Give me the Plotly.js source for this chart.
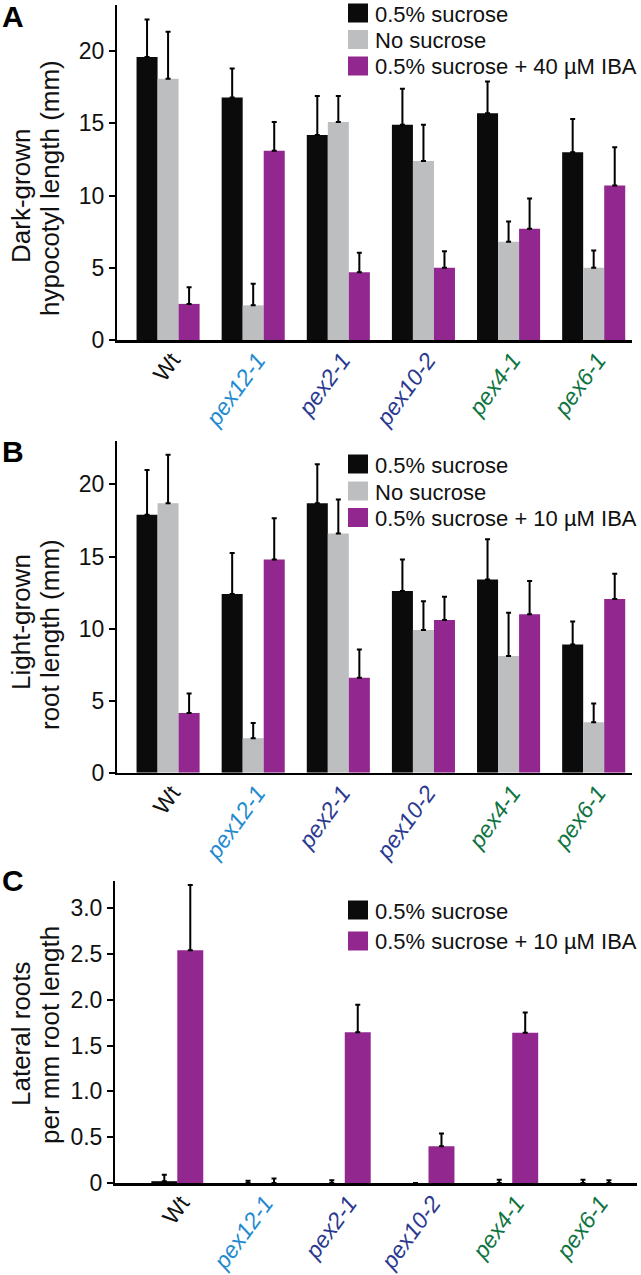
<!DOCTYPE html>
<html>
<head>
<meta charset="utf-8">
<script src="https://cdn.plot.ly/plotly-3.0.1.min.js"></script>
<style>html,body{margin:0;padding:0;background:#fff;}</style>
</head>
<body>
<div id="chart" style="width:641px;height:1275px;"></div>
<script>
// ---------- data ----------
const categories = ['Wt', 'pex12-1', 'pex2-1', 'pex10-2', 'pex4-1', 'pex6-1'];

const namesA = ['0.5% sucrose', 'No sucrose', '0.5% sucrose + 40 µM IBA'];
const aSucrose = [19.6, 16.8, 14.2, 14.9, 15.7, 13.0];
const aSucroseErr = [2.6, 2.0, 2.7, 2.5, 2.2, 2.3];
const aNoSucrose = [18.1, 2.4, 15.1, 12.4, 6.8, 5.0];
const aNoSucroseErr = [3.25, 1.5, 1.8, 2.5, 1.4, 1.2];
const aIBA = [2.5, 13.1, 4.7, 5.0, 7.7, 10.7];
const aIBAErr = [1.15, 2.0, 1.35, 1.15, 2.1, 2.65];

const namesB = ['0.5% sucrose', 'No sucrose', '0.5% sucrose + 10 µM IBA'];
const bSucrose = [17.9, 12.4, 18.7, 12.6, 13.4, 8.9];
const bSucroseErr = [3.1, 2.85, 2.7, 2.2, 2.8, 1.6];
const bNoSucrose = [18.7, 2.4, 16.6, 9.9, 8.1, 3.5];
const bNoSucroseErr = [3.35, 1.05, 2.35, 2.0, 3.0, 1.3];
const bIBA = [4.15, 14.8, 6.6, 10.6, 11.0, 12.05];
const bIBAErr = [1.35, 2.85, 1.95, 1.6, 2.3, 1.75];

const namesC = ['0.5% sucrose', '0.5% sucrose + 10 µM IBA'];
const cSucrose = [0.02, 0, 0, 0, 0, 0];
const cSucroseErr = [0.07, 0.025, 0.03, 0, 0.035, 0.035];
const cIBA = [2.54, 0, 1.645, 0.40, 1.64, 0];
const cIBAErr = [0.71, 0.05, 0.30, 0.14, 0.22, 0.03];

const yTicksAB = [0, 5, 10, 15, 20];
const yTicksC = [0, 0.5, 1.0, 1.5, 2.0, 2.5, 3.0];
const yTickTextC = ['0', '0.5', '1.0', '1.5', '2.0', '2.5', '3.0'];

const titleA = ['Dark-grown', 'hypocotyl length (mm)'];
const titleB = ['Light-grown', 'root length (mm)'];
const titleC = ['Lateral roots', 'per mm root length'];
const panelLetters = ['A', 'B', 'C'];

// ---------- styles ----------
const W = 641, H = 1275;
const FONT = 'Liberation Sans, Arial, Helvetica, sans-serif';
const BLACK = '#0b0b0b', GRAY = '#bcbec0', PURPLE = '#92278f';
const tickColors = ['#111111', '#1f8ad0', '#2b3990', '#2b3990', '#0e7442', '#0e7442'];
const px = v => v / W;
const py = v => 1 - v / H;

const tickText = categories.map((c, i) =>
  i === 0 ? '<span style="color:' + tickColors[i] + '">' + c + '</span>'
          : '<i><span style="color:' + tickColors[i] + '">' + c + '</span></i>');

function barTrace(y, err, color, name, xa, ya, w, off) {
  return {
    type: 'bar', x: categories, y: y, name: name, xaxis: xa, yaxis: ya,
    width: w, offset: off,
    marker: {color: color, line: {width: 0}},
    error_y: {type: 'data', symmetric: false, array: err,
              arrayminus: err.map(() => 0), color: '#000', thickness: 2, width: 2.5},
    showlegend: false, hoverinfo: 'x+y'
  };
}

const wAB = 0.247, wC = 0.31;
const data = [
  barTrace(aSucrose, aSucroseErr, BLACK, namesA[0], 'x', 'y', wAB, -1.5 * wAB),
  barTrace(aNoSucrose, aNoSucroseErr, GRAY, namesA[1], 'x', 'y', wAB, -0.5 * wAB),
  barTrace(aIBA, aIBAErr, PURPLE, namesA[2], 'x', 'y', wAB, 0.5 * wAB),
  barTrace(bSucrose, bSucroseErr, BLACK, namesB[0], 'x2', 'y2', wAB, -1.5 * wAB),
  barTrace(bNoSucrose, bNoSucroseErr, GRAY, namesB[1], 'x2', 'y2', wAB, -0.5 * wAB),
  barTrace(bIBA, bIBAErr, PURPLE, namesB[2], 'x2', 'y2', wAB, 0.5 * wAB),
  barTrace(cSucrose, cSucroseErr, BLACK, namesC[0], 'x3', 'y3', wC, -wC),
  barTrace(cIBA, cIBAErr, PURPLE, namesC[1], 'x3', 'y3', wC, 0)
];

function xAxis(domain, range, anchor) {
  return {
    domain: domain, range: range, anchor: anchor, type: 'category',
    tickmode: 'array', tickvals: categories, ticktext: tickText,
    tickangle: -54, ticks: '', showline: true, linecolor: '#000', linewidth: 2.5,
    ticklabelstandoff: -5, ticklabelshift: 4,
    showgrid: false, zeroline: false, fixedrange: true,
    tickfont: {family: FONT, size: 23, color: '#111'}
  };
}
function yAxis(domain, range, anchor, tv, tt) {
  return {
    domain: domain, range: range, anchor: anchor,
    tickmode: 'array', tickvals: tv, ticktext: tt || tv.map(String),
    ticks: 'outside', ticklen: 6, tickwidth: 2, tickcolor: '#000',
    showline: true, linecolor: '#000', linewidth: 2,
    showgrid: false, zeroline: false, fixedrange: true,
    tickfont: {family: FONT, size: 23, color: '#111'}
  };
}

const shapes = [], annotations = [];
function legend(names, colors, rows) {
  names.forEach((n, i) => {
    shapes.push({type: 'rect', xref: 'paper', yref: 'paper',
      x0: px(348), x1: px(368), y0: py(rows[i] + 9.5), y1: py(rows[i] - 9.5),
      fillcolor: colors[i], line: {width: 0}});
    annotations.push({xref: 'paper', yref: 'paper', x: px(373), y: py(rows[i] + 1),
      xanchor: 'left', yanchor: 'middle', showarrow: false, text: n,
      font: {family: FONT, size: 22, color: '#111'}});
  });
}
legend(namesA, [BLACK, GRAY, PURPLE], [13, 39.5, 66]);
legend(namesB, [BLACK, GRAY, PURPLE], [464, 491, 517.5]);
legend(namesC, [BLACK, PURPLE], [910, 941]);

[[titleA, 196, 188], [titleB, 622, 635], [titleC, 1034, 1035]].forEach(t => {
  [[t[0][0], 21, t[1]], [t[0][1], 50, t[2]]].forEach(l => {
    annotations.push({xref: 'paper', yref: 'paper', x: px(l[1]), y: py(l[2]),
      xanchor: 'center', yanchor: 'middle', showarrow: false, textangle: -90,
      text: l[0], font: {family: FONT, size: 26, color: '#111'}});
  });
});
[[panelLetters[0], 17], [panelLetters[1], 451], [panelLetters[2], 880]].forEach(t => {
  annotations.push({xref: 'paper', yref: 'paper', x: px(0), y: py(t[1]),
    xanchor: 'left', yanchor: 'middle', showarrow: false,
    text: '<b>' + t[0] + '</b>', font: {family: FONT, size: 30, color: '#000'}});
});

const layout = {
  width: W, height: H, margin: {l: 0, r: 0, t: 0, b: 0, pad: 0},
  paper_bgcolor: '#fff', plot_bgcolor: '#fff',
  barmode: 'overlay', showlegend: false,
  font: {family: FONT, color: '#111'},
  xaxis: xAxis([px(117), px(632)], [-0.6, 5.45], 'y'),
  yaxis: yAxis([py(340), py(5)], [0, 23.2], 'x', yTicksAB),
  xaxis2: xAxis([px(117), px(632)], [-0.6, 5.45], 'y2'),
  yaxis2: yAxis([py(772.8), py(440.7)], [0, 23.03], 'x2', yTicksAB),
  xaxis3: xAxis([px(115), px(637)], [-0.744, 5.49], 'y3'),
  yaxis3: yAxis([py(1183), py(880.5)], [0, 3.3], 'x3', yTicksC, yTickTextC),
  shapes: shapes, annotations: annotations
};

Plotly.newPlot('chart', data, layout, {displayModeBar: false, staticPlot: true});
</script>
</body>
</html>
